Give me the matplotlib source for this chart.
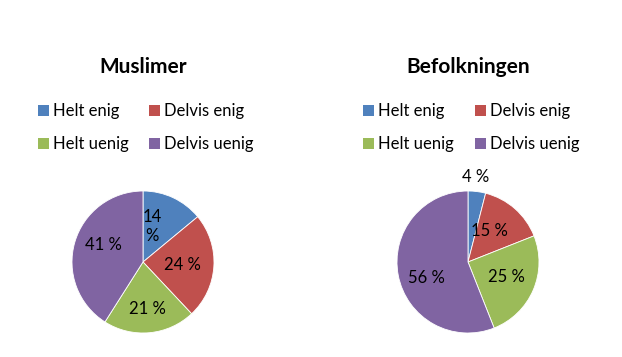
import matplotlib
matplotlib.use("Agg")
import matplotlib.pyplot as plt
from matplotlib.patches import Rectangle

plt.rcParams['font.family'] = ['Lato', 'DejaVu Sans']

# data
categories = ["Helt enig", "Delvis enig", "Helt uenig", "Delvis uenig"]
colors = ["#4F81BD", "#C0504D", "#9BBB59", "#8064A2"]
titles = ["Muslimer", "Befolkningen"]
muslimer = [14, 24, 21, 41]
befolkningen = [4, 15, 25, 56]
labels_muslimer = ["14\n%", "24 %", "21 %", "41 %"]
labels_befolkningen = ["4 %", "15 %", "25 %", "56 %"]

# label offsets from pie centre, in radius units (as Excel put them)
offs_muslimer = [(0.13, 0.50), (0.56, -0.04), (0.06, -0.66), (-0.56, 0.24)]
offs_befolkningen = [(0.11, 1.20), (0.30, 0.44), (0.54, -0.21), (-0.58, -0.23)]

W, H = 622, 357
fig = plt.figure(figsize=(W / 100, H / 100), dpi=100)


def px(x, y):
    return x / W, 1 - y / H


def draw_pie(cx, cy, r, values, labels, offs, title, leg_x, col2_x):
    ax = fig.add_axes([(cx - r) / W, 1 - (cy + r) / H, 2 * r / W, 2 * r / H])
    ax.pie(values, colors=colors, startangle=90, counterclock=False, radius=1,
           wedgeprops=dict(edgecolor="white", linewidth=0.6))
    ax.set_xlim(-1, 1)
    ax.set_ylim(-1, 1)
    ax.set_aspect("equal")
    ax.axis("off")
    for lab, (dx, dy) in zip(labels, offs):
        ax.text(dx, dy, lab, ha="center", va="center", fontsize=12,
                linespacing=1.3, clip_on=False)

    fig.text(*px(cx, 73), title, ha="center", va="baseline",
             fontsize=15, fontweight="bold")

    # legend, 2x2
    rows = [111, 143.5]
    xs = [leg_x, col2_x]
    for i, cat in enumerate(categories):
        x = xs[i % 2]
        y = rows[i // 2]
        fig.patches.append(Rectangle(px(x, y + 5), 10.5 / W, 10.5 / H,
                                     transform=fig.transFigure,
                                     facecolor=colors[i], edgecolor="none"))
        fig.text(*px(x + 15, y + 5.5), cat, ha="left", va="baseline",
                 fontsize=12)


draw_pie(143, 262, 71, muslimer, labels_muslimer, offs_muslimer,
         titles[0], 38, 149)
draw_pie(468, 262, 71, befolkningen, labels_befolkningen, offs_befolkningen,
         titles[1], 363, 475)

fig.savefig("out.png", dpi=100, facecolor="white")
